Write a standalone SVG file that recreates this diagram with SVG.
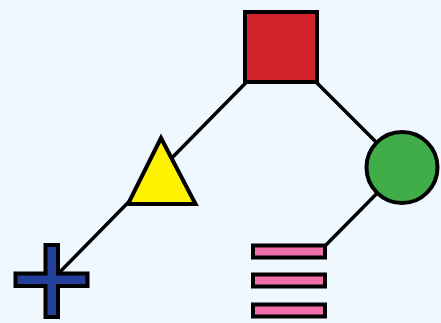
<svg xmlns="http://www.w3.org/2000/svg" width="441" height="323" viewBox="0 0 441 323">
<style>
.edge{stroke:#000;stroke-width:3.5;fill:none}
.shape{stroke:#000;stroke-width:4;stroke-linejoin:miter}
</style>
<rect width="441" height="323" fill="#f0f8ff"/>
<g id="connectors">
<line class="edge" x1="281" y1="47" x2="161" y2="169"/>
<line class="edge" x1="281" y1="47" x2="402" y2="168"/>
<line class="edge" x1="161" y1="169" x2="52" y2="280"/>
<line class="edge" x1="402" y1="168" x2="321" y2="250"/>
</g>
<g id="square"><rect class="shape" x="245" y="12" width="72" height="70" fill="#d2232a"/></g>
<g id="circle"><circle class="shape" cx="402" cy="167.5" r="35.5" fill="#41ad49"/></g>
<g id="triangle"><polygon class="shape" points="161,138 128,204 195.5,204" fill="#fff200"/></g>
<g id="plus"><polygon class="shape" points="45.5,245 58,245 58,273.5 87.5,273.5 87.5,286 58,286 58,317 45.5,317 45.5,286 15.5,286 15.5,273.5 45.5,273.5" fill="#22409a"/></g>
<g id="bars">
<rect class="shape" x="253" y="245.5" width="72" height="12" fill="#f06eaa"/>
<rect class="shape" x="253" y="274.5" width="72" height="12" fill="#f06eaa"/>
<rect class="shape" x="253" y="304.5" width="72" height="12" fill="#f06eaa"/>
</g>
</svg>
